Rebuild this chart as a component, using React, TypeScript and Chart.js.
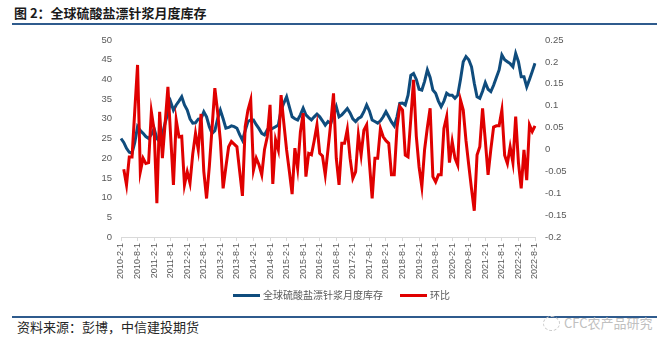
import React, { useEffect, useRef } from "react";
import { Chart, registerables } from "chart.js";

Chart.register(...registerables);

const TITLE = "图 2：全球硫酸盐漂针浆月度库存";
const SOURCE = "资料来源：彭博，中信建投期货";
const WATERMARK = "CFC农产品研究";
const SERIES_INV = "全球硫酸盐漂针浆月度库存";
const SERIES_MOM = "环比";

// Monthly categories 2010-2-1 .. 2022-8-1
const START_YEAR = 2010;
const START_MONTH = 2;
const MONTH_COUNT = 151;
const categories: string[] = [];
for (let k = 0; k < MONTH_COUNT; k++) {
  const m0 = START_MONTH - 1 + k;
  categories.push(`${START_YEAR + Math.floor(m0 / 12)}-${(m0 % 12) + 1}-1`);
}

// 全球硫酸盐漂针浆月度库存 (left axis)
const inventory: number[] = [
  25, 24, 22.5, 21.5, 21.3, 24, 28, 27, 26.3, 25.5, 25, 26,
  27.5, 25, 24.2, 26, 29, 31.5, 34.3, 32.2, 33.5, 34.5, 35.6, 33.5,
  32.2, 30, 28.9, 29, 29.9, 30, 31.8, 30.5, 28, 26.3, 27, 30,
  32.2, 30, 27.6, 27.8, 28.2, 28, 27.6, 26, 24.6, 27, 29.3, 29.7,
  29.7, 28.5, 27.5, 26.3, 25.9, 27.2, 27.2, 27.6, 28, 28.4, 32.2, 34,
  35.6, 33, 30.5, 30, 29.7, 31, 32.7, 31, 30.3, 29.7, 30.5, 31.2,
  30.5, 29.5, 28.4, 29.3, 28.8, 31, 33.1, 30.5, 31, 31.8, 32.6, 31.5,
  30, 29.3, 30.1, 30.5, 31.8, 33.5, 32, 29.7, 29.3, 28.9, 29.5, 30.5,
  31.8, 30.5, 29.2, 28.2, 30.5, 33.9, 34, 33.5, 36, 41, 41.5, 40,
  37.5, 37.3, 39.5, 42.4, 40.5, 37.3, 36.5, 34.5, 33.1, 34.5, 36.5, 36,
  36, 35.2, 36, 40, 44.5, 45.8, 45, 43.2, 39, 35.6, 35.2, 37,
  39.2, 37.5, 36.9, 38.5, 40.5, 42.4, 46.2, 45, 44.5, 44, 43.2, 46.6,
  44.5, 40.7, 40.7, 38.1, 40, 42, 44.1,
];

// 环比 (right axis)
const mom: (number | null)[] = [
  null, -0.045, -0.081, -0.017, -0.017, 0.09, 0.193, -0.051, -0.02, -0.032, -0.03, 0.086,
  0.044, -0.123, 0.086, -0.02, 0.06, 0.143, 0.03, -0.081, 0.067, 0.029, 0.03, -0.081,
  -0.051, -0.077, -0.01, 0.037, -0.001, 0.081, -0.05, -0.112, -0.039, 0.05, 0.14, 0.086,
  0.02, -0.089, -0.04, 0.006, 0.018, 0.012, 0.006, -0.05, -0.106, 0.052, 0.09, 0.113,
  -0.047, -0.02, -0.035, -0.058, 0.0, 0.029, 0.102, -0.079, 0.022, -0.001, 0.124, 0.06,
  -0.001, -0.05, -0.102, 0.003, -0.043, 0.04, 0.083, -0.062, -0.009, -0.012, 0.02, 0.056,
  -0.009, -0.015, -0.058, 0.0, 0.06, 0.128, -0.02, -0.081, 0.014, 0.014, 0.046, -0.02,
  -0.066, -0.051, 0.033, -0.013, 0.044, 0.056, -0.03, -0.112, -0.02, -0.02, 0.048, 0.029,
  0.02, 0.014, -0.058, -0.058, 0.05, 0.098, 0.09, -0.013, -0.017, 0.07, 0.159, 0.03,
  -0.04, -0.085, 0.0, 0.05, 0.094, -0.062, -0.074, -0.058, -0.058, 0.048, 0.075, -0.03,
  0.018, -0.02, -0.036, 0.113, 0.09, 0.02, -0.036, -0.09, -0.14, -0.013, 0.006, 0.094,
  0.02, -0.058, 0.0, 0.051, 0.054, 0.054, 0.09, -0.013, -0.032, 0.006, -0.03, 0.075,
  -0.03, -0.089, -0.001, -0.07, 0.056, 0.041, 0.054,
];

const BLUE = "#0f4c7d";
const RED = "#e00000";
const AXIS_TEXT = "#595959";
const RULE = "#2f5b8d";
const FONT = "'Liberation Sans', Arial, sans-serif";
const CJK = "'Noto Sans CJK SC', sans-serif";

export default function App() {
  const canvasRef = useRef<HTMLCanvasElement | null>(null);

  useEffect(() => {
    if (!canvasRef.current) return;
    const chart = new Chart(canvasRef.current, {
      type: "line",
      data: {
        labels: categories,
        datasets: [
          {
            label: SERIES_INV,
            data: inventory,
            borderColor: BLUE,
            backgroundColor: BLUE,
            borderWidth: 3,
            pointRadius: 0,
            tension: 0,
            yAxisID: "y",
            order: 2,
          },
          {
            label: SERIES_MOM,
            data: mom,
            borderColor: RED,
            backgroundColor: RED,
            borderWidth: 3,
            pointRadius: 0,
            tension: 0,
            yAxisID: "y1",
            order: 1,
          },
        ],
      },
      options: {
        animation: false,
        responsive: false,
        maintainAspectRatio: false,
        layout: { padding: { top: 40, left: 0, right: 0, bottom: 0 } },
        plugins: { legend: { display: false }, tooltip: { enabled: false } },
        scales: {
          x: {
            type: "category",
            offset: false,
            grid: {
              display: true,
              drawOnChartArea: false,
              drawTicks: true,
              tickLength: 4,
              color: (ctx: any) => (ctx.index % 6 === 0 ? "#d9d9d9" : "rgba(0,0,0,0)"),
            },
            border: { display: true, color: "#d9d9d9", width: 1 },
            ticks: {
              autoSkip: false,
              minRotation: 90,
              maxRotation: 90,
              padding: 2,
              color: AXIS_TEXT,
              font: { family: FONT, size: 9 },
              callback: (_v: any, i: number) => (i % 6 === 0 ? categories[i] : ""),
            },
            afterFit: (s: any) => {
              s.height = 63;
            },
          },
          y: {
            position: "left",
            min: 0,
            max: 50,
            grid: { display: false, drawTicks: false },
            border: { display: false },
            ticks: {
              stepSize: 5,
              padding: 9,
              color: AXIS_TEXT,
              font: { family: FONT, size: 9.5 },
            },
            afterFit: (s: any) => {
              s.width = 121;
            },
          },
          y1: {
            position: "right",
            min: -0.2,
            max: 0.25,
            grid: { display: false, drawTicks: false },
            border: { display: false },
            ticks: {
              stepSize: 0.05,
              padding: 10,
              color: AXIS_TEXT,
              font: { family: FONT, size: 9.5 },
              callback: (v: any) => {
                const n = Math.round(Number(v) * 100) / 100;
                return String(n);
              },
            },
            afterFit: (s: any) => {
              s.width = 135;
            },
          },
        },
      },
    });
    return () => chart.destroy();
  }, []);

  return (
    <div
      style={{
        position: "fixed",
        left: 0,
        top: 0,
        width: 670,
        height: 350,
        background: "#fff",
        overflow: "hidden",
      }}
    >
      <div
        style={{
          position: "absolute",
          left: 14,
          top: 4,
          fontFamily: CJK,
          fontWeight: 700,
          fontSize: 13,
          color: "#1a1a1a",
          lineHeight: "18px",
          whiteSpace: "nowrap",
        }}
      >
        {TITLE}
      </div>
      <div style={{ position: "absolute", left: 12, top: 23, width: 645, height: 2, background: RULE }} />
      <canvas
        ref={canvasRef}
        width={670}
        height={300}
        style={{ position: "absolute", left: 0, top: 0, width: 670, height: 300 }}
      />
      <div
        style={{
          position: "absolute",
          left: 233,
          top: 288,
          display: "flex",
          alignItems: "center",
          fontFamily: CJK,
          fontSize: 10,
          color: AXIS_TEXT,
          whiteSpace: "nowrap",
          lineHeight: "14px",
        }}
      >
        <span style={{ display: "inline-block", width: 27, height: 3, background: BLUE, marginRight: 3 }} />
        <span>{SERIES_INV}</span>
        <span style={{ display: "inline-block", width: 27, height: 3, background: RED, marginLeft: 17, marginRight: 3 }} />
        <span>{SERIES_MOM}</span>
      </div>
      <div style={{ position: "absolute", left: 12, top: 316, width: 645, height: 2, background: RULE }} />
      <div
        style={{
          position: "absolute",
          left: 17,
          top: 318,
          fontFamily: CJK,
          fontSize: 13,
          color: "#262626",
          lineHeight: "18px",
          whiteSpace: "nowrap",
        }}
      >
        {SOURCE}
      </div>
      <div
        style={{
          position: "absolute",
          left: 543,
          top: 316,
          width: 15,
          height: 13,
          borderRadius: "50%",
          border: "1px dashed #c8c8c8",
        }}
      />
      <div
        style={{
          position: "absolute",
          left: 564,
          top: 314,
          fontFamily: CJK,
          fontSize: 13,
          color: "#c0c0c0",
          lineHeight: "18px",
          whiteSpace: "nowrap",
        }}
      >
        {WATERMARK}
      </div>
    </div>
  );
}
